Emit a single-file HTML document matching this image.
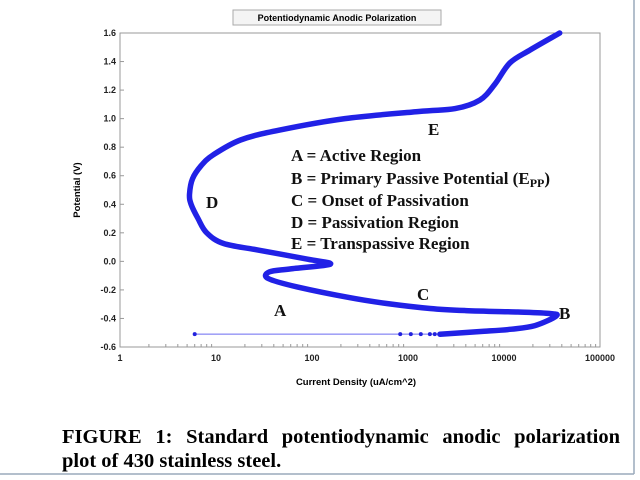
<!DOCTYPE html>
<html><head><meta charset="utf-8"><style>
body{margin:0;background:#fff;}
svg{display:block;}
</style></head><body>
<svg width="640" height="480" xmlns="http://www.w3.org/2000/svg">
<line x1="634" y1="0" x2="634" y2="474" stroke="#9aaabb" stroke-width="1.5"/>
<line x1="0" y1="474" x2="634" y2="474" stroke="#9aaabb" stroke-width="1.5"/>
<rect x="233" y="10" width="208" height="15" fill="#f4f4f4" stroke="#aaa"/>
<text x="337" y="21" font-family="Liberation Sans, sans-serif" font-size="9" font-weight="bold" text-anchor="middle">Potentiodynamic Anodic Polarization</text>
<rect x="120" y="33" width="480" height="314" fill="#fff" stroke="#999"/>
<g id="axes" font-family="Liberation Sans, sans-serif" font-size="9" font-weight="bold" fill="#222"></g>
<text transform="translate(80,190) rotate(-90)" font-family="Liberation Sans, sans-serif" font-size="9.5" font-weight="bold" text-anchor="middle">Potential (V)</text>
<text x="356" y="385" font-family="Liberation Sans, sans-serif" font-size="9.5" font-weight="bold" text-anchor="middle">Current Density (uA/cm^2)</text>
<g id="series"></g>
<g font-family="Liberation Serif, serif" font-size="17" font-weight="bold" fill="#111">
<text x="428" y="135">E</text>
<text x="206" y="208">D</text>
<text x="417" y="300">C</text>
<text x="274" y="316">A</text>
<text x="559" y="319">B</text>
<text x="291" y="161">A = Active Region</text>
<text x="291" y="184">B = Primary Passive Potential (E<tspan font-size="12" dy="3">PP</tspan><tspan dy="-3">)</tspan></text>
<text x="291" y="206">C = Onset of Passivation</text>
<text x="291" y="228">D = Passivation Region</text>
<text x="291" y="249">E = Transpassive Region</text>
</g>
<text id="cap1" x="62" y="443" font-family="Liberation Serif, serif" font-size="20.5" font-weight="bold">FIGURE 1: Standard potentiodynamic anodic polarization</text>
<text x="62" y="467" font-family="Liberation Serif, serif" font-size="20.5" font-weight="bold">plot of 430 stainless steel.</text>
</svg>
<script>
const xTicks=[1,10,100,1000,10000,100000];
const yTicks=[-0.6,-0.4,-0.2,0.0,0.2,0.4,0.6,0.8,1.0,1.2,1.4,1.6];
const curveI=[2150,6200,12000,21000,35000,30000,14000,4000,1700,600,245,71,35,36,60,155,90,27,12,8,6.5,5.5,5.3,5.7,7,9.3,18,46,220,1300,3100,5600,8000,11500,18600,38000];
const curveE=[-0.51,-0.49,-0.475,-0.45,-0.383,-0.365,-0.355,-0.345,-0.33,-0.295,-0.254,-0.18,-0.12,-0.074,-0.053,-0.02,0.015,0.08,0.125,0.2,0.30,0.40,0.47,0.58,0.67,0.745,0.85,0.92,1.00,1.05,1.07,1.13,1.24,1.39,1.48,1.60];
const dotI=[6,830,1070,1360,1690,1900,2150];
const dotE=[-0.51,-0.51,-0.51,-0.51,-0.51,-0.51,-0.51];
const NS='http://www.w3.org/2000/svg';
const X=v=>120+96*Math.log10(v);
const Y=v=>347-(v+0.6)/2.2*314;
const ax=document.getElementById('axes');
function mk(t,a,p){const e=document.createElementNS(NS,t);for(const k in a)e.setAttribute(k,a[k]);p.appendChild(e);return e;}
xTicks.forEach(v=>{
 const t=mk('text',{x:X(v),y:361,'text-anchor':'middle'},ax);t.textContent=String(v);
 
 
 if(v<100000)for(let k=2;k<10;k++){const l=mk('line',{x1:X(v*k),x2:X(v*k),y1:347,y2:344,stroke:'#999'},ax);
 
 }
});
yTicks.forEach(v=>{
 const t=mk('text',{x:116,y:Y(v)+3,'text-anchor':'end'},ax);t.textContent=v.toFixed(1);
 
 
 const l=mk('line',{x1:120,x2:124,y1:Y(v),y2:Y(v),stroke:'#999'},ax);
 
 
});
const s=document.getElementById('series');
const thin=mk('line',{x1:X(dotI[0]),y1:Y(dotE[0]),x2:X(dotI[dotI.length-1]),y2:Y(dotE[0]),stroke:'#6a6af0','stroke-width':1},s);


dotI.forEach((v,i)=>{const c=mk('circle',{cx:X(v),cy:Y(dotE[i]),r:2,fill:'#2222dd'},s);
 
 });
const P=curveI.map((v,i)=>[X(v),Y(curveE[i])]);
let d='M'+P[0][0].toFixed(1)+','+P[0][1].toFixed(1);
for(let i=0;i<P.length-1;i++){
 const p0=P[Math.max(0,i-1)],p1=P[i],p2=P[i+1],p3=P[Math.min(P.length-1,i+2)];
 const c1=[p1[0]+(p2[0]-p0[0])/6,p1[1]+(p2[1]-p0[1])/6];
 const c2=[p2[0]-(p3[0]-p1[0])/6,p2[1]-(p3[1]-p1[1])/6];
 d+='C'+c1.map(n=>n.toFixed(1)).join(',')+' '+c2.map(n=>n.toFixed(1)).join(',')+' '+p2.map(n=>n.toFixed(1)).join(',');
}
const p=mk('path',{d:d,fill:'none',stroke:'#2121e6','stroke-width':5.5,'stroke-linejoin':'round','stroke-linecap':'round'},s);


const cap=document.getElementById('cap1');
const w=cap.getComputedTextLength();
const spaces=(cap.textContent.match(/ /g)||[]).length;
if(w<558)cap.setAttribute('word-spacing',((558-w)/spaces).toFixed(2));
</script>
</body></html>
